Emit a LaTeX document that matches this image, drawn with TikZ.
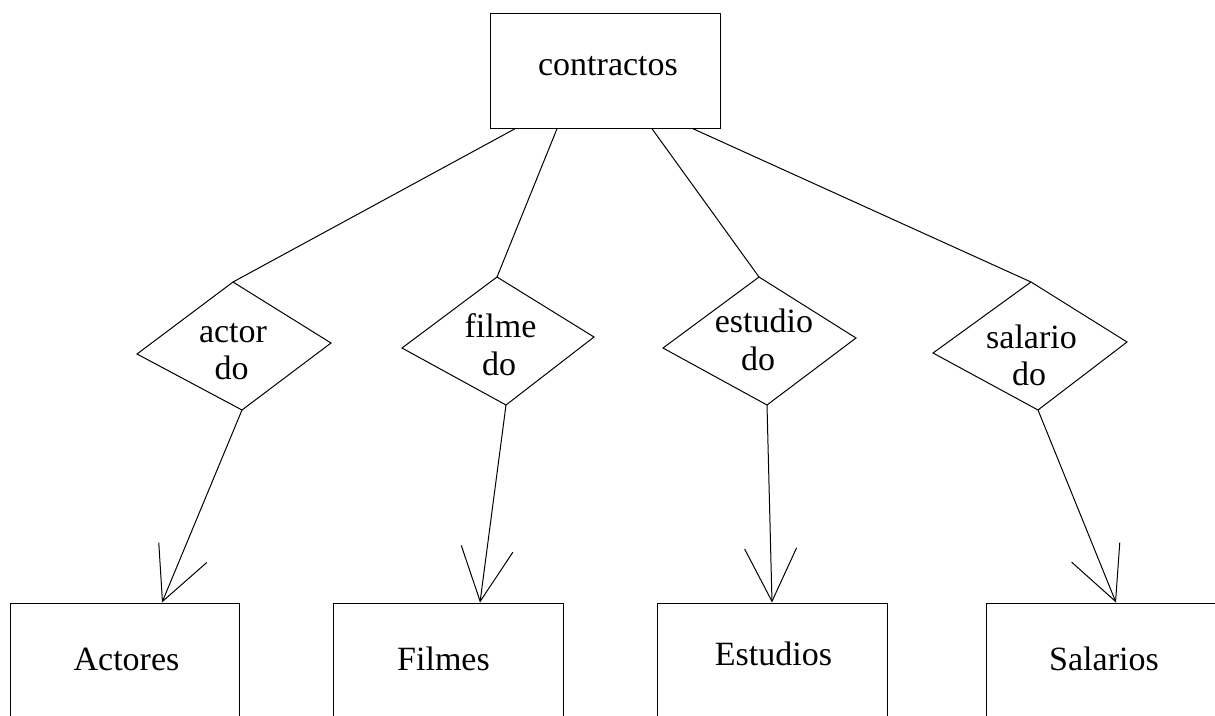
\documentclass[tikz,border=0pt]{standalone}
\usepackage{fontspec}
\setmainfont{Liberation Serif}
\usetikzlibrary{arrows.meta}
\begin{document}
\begin{tikzpicture}[x=1pt,y=-1pt,line width=1pt,
  box/.style={draw,rectangle,minimum width=230pt,minimum height=115pt,inner sep=0pt},
  lbl/.style={anchor=base,inner sep=0pt,font=\fontsize{34}{38}\selectfont},
  arr/.style={-{Straight Barb[length=53pt,width=52pt]}}]
\useasboundingbox (0,0) rectangle (1215,715);
\clip (0,0) rectangle (1215,715);
% top entity
\node[box] (top) at (605,70.75) {};
\node[lbl] (toptext) at (608,75) {contractos};
% bottom entities
\node[box,minimum width=229pt] (A) at (124.5,660.5) {};
\node[lbl] (Atext) at (126.5,670) {Actores};
\node[box] (F) at (448,660.5) {};
\node[lbl] (Ftext) at (443.5,670) {Filmes};
\node[box] (E) at (772,660.5) {};
\node[lbl] (Etext) at (773.5,665) {Estudios};
\node[box] (S) at (1101,660.5) {};
\node[lbl] (Stext) at (1104,670) {Salarios};
% diamonds
\coordinate (a-t) at (233,282); \coordinate (a-r) at (331,343);
\coordinate (a-b) at (242,410); \coordinate (a-l) at (137,354);
\coordinate (f-t) at (497,277); \coordinate (f-r) at (594,337);
\coordinate (f-b) at (506,405); \coordinate (f-l) at (402,348);
\coordinate (e-t) at (759,277); \coordinate (e-r) at (856,338);
\coordinate (e-b) at (767,405); \coordinate (e-l) at (663,348);
\coordinate (s-t) at (1031,282); \coordinate (s-r) at (1127,342);
\coordinate (s-b) at (1038,410); \coordinate (s-l) at (933,353);
\draw (a-t) -- (a-r) -- (a-b) -- (a-l) -- cycle;
\draw (f-t) -- (f-r) -- (f-b) -- (f-l) -- cycle;
\draw (e-t) -- (e-r) -- (e-b) -- (e-l) -- cycle;
\draw (s-t) -- (s-r) -- (s-b) -- (s-l) -- cycle;
\node[lbl] (a1) at (233,342) {actor};
\node[lbl] (a2) at (231.5,379) {do};
\node[lbl] (f1) at (500.5,337) {filme};
\node[lbl] (f2) at (499,375) {do};
\node[lbl] (e1) at (764,332) {estudio};
\node[lbl] (e2) at (758,370) {do};
\node[lbl] (s1) at (1031.5,348) {salario};
\node[lbl] (s2) at (1029,385) {do};
% connectors from top
\draw ([xshift=-90pt]top.south) -- (a-t);
\draw ([xshift=-48pt]top.south) -- (f-t);
\draw ([xshift=47pt]top.south) -- (e-t);
\draw ([xshift=88pt]top.south) -- (s-t);
% arrows to entities
\draw[arr] (a-b) -- ([xshift=37.5pt]A.north);
\draw[arr] (f-b) -- ([xshift=32pt]F.north);
\draw[arr] (e-b) -- ([xshift=0pt]E.north);
\draw[arr] (s-b) -- ([xshift=15pt]S.north);
\end{tikzpicture}
\end{document}
